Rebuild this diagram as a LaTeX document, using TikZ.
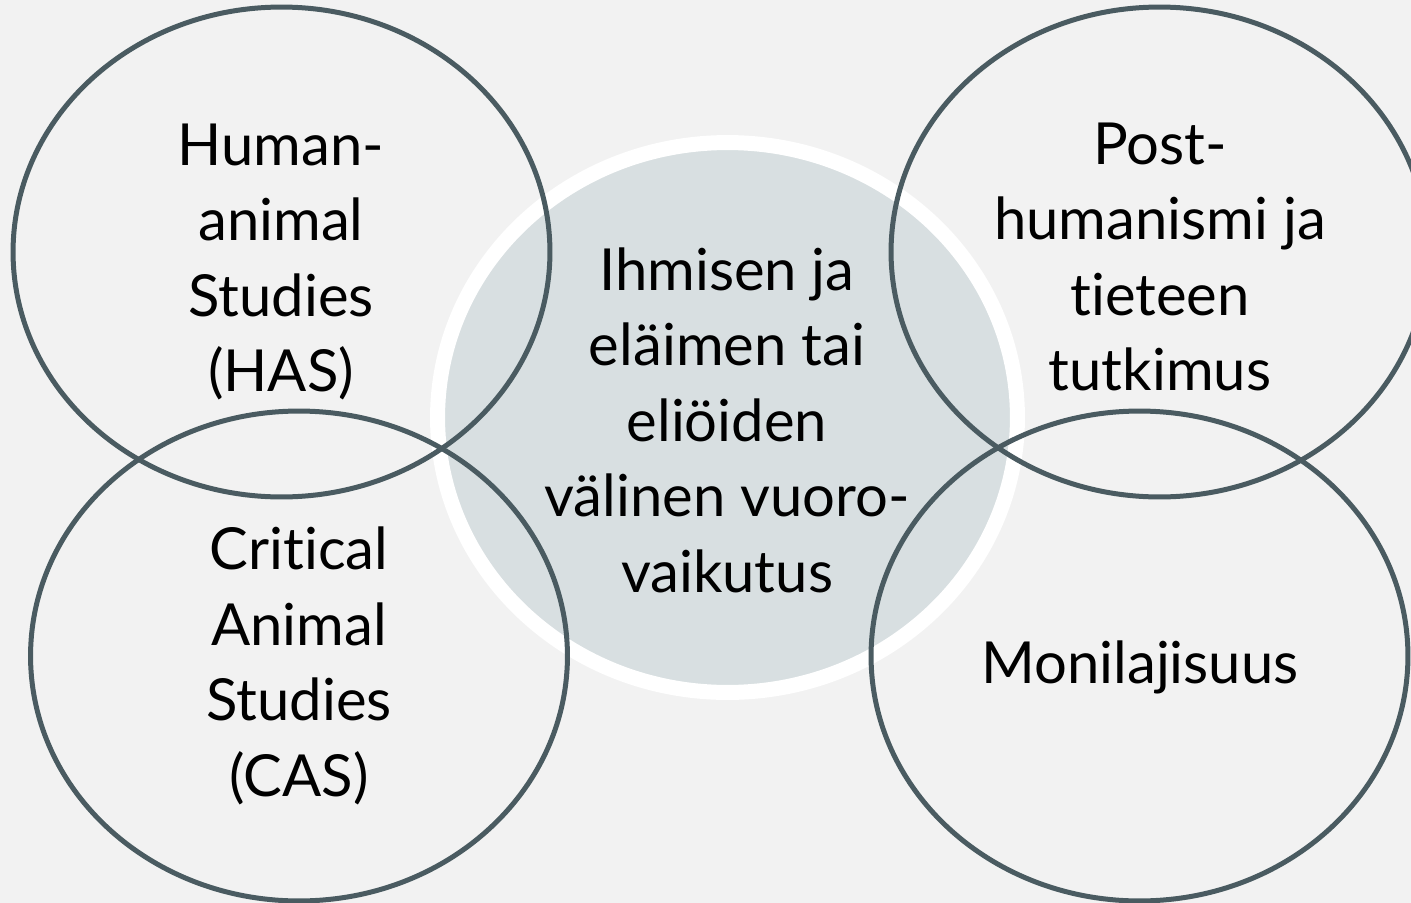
\documentclass[tikz,border=0pt]{standalone}
\usepackage{fontspec}
\setmainfont{Lato}[Ligatures=NoCommon]
\usetikzlibrary{shapes.geometric}
\definecolor{tausta}{HTML}{F2F2F2}
\definecolor{reuna}{HTML}{4A5B61}
\definecolor{keski}{HTML}{D8DFE1}
\begin{document}
\begin{tikzpicture}[x=0.02cm, y=-0.02cm,
        kehys/.style={ellipse, draw=reuna, line width=0.1cm,
                      minimum width=10.74cm, minimum height=9.8cm, inner sep=0pt},
        keskus/.style={ellipse, draw=white, fill=keski, line width=0.3cm,
                       minimum width=11.6cm, minimum height=11cm, inner sep=0pt},
        teksti/.style={align=center, font=\fontsize{33}{43}\selectfont}
    ]

        % Tausta
        \fill[tausta] (0,0) rectangle (1411,903);
        \clip (0,0) rectangle (1411,903);

        % Keskimmainen soikio
        \node[keskus] (keskus) at (727.5,417.5) {};

        % Neljä reunasoikiota
        \node[kehys] (has) at (281.5,252) {};
        \node[kehys] (cas) at (299,656) {};
        \node[kehys] (post) at (1159.5,252) {};
        \node[kehys] (moni) at (1139.5,656) {};

        % Tekstit
        \node[teksti] (keskusteksti) at (727,420) {Ihmisen ja\\eläimen tai\\eliöiden\\välinen vuoro-\\vaikutus};
        \node[teksti] (hasteksti) at (281,262) {Human-\\animal\\Studies\\(HAS)};
        \node[teksti] (casteksti) at (299,666) {Critical\\Animal\\Studies\\(CAS)};
        \node[teksti] (postteksti) at (1160,257) {Post-\\humanismi ja\\tieteen\\tutkimus};
        \node[teksti] (moniteksti) at (1140,667) {Monilajisuus};

    \end{tikzpicture}
\end{document}
